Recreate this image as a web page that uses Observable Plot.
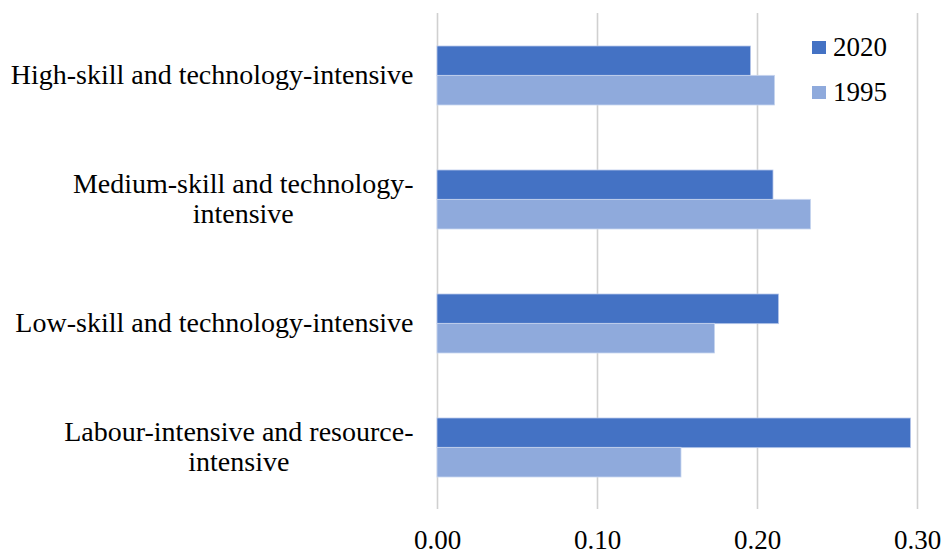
<!DOCTYPE html>
<html>
<head>
<meta charset="utf-8">
<script src="https://cdn.jsdelivr.net/npm/d3@7"></script>
<script src="https://cdn.jsdelivr.net/npm/@observablehq/plot@0.6"></script>
<style>
  html, body { margin: 0; padding: 0; background: #fff; }
  #wrap { position: relative; width: 943px; height: 553px; }
  #wrap svg text { font-family: "Liberation Serif", "Times New Roman", serif !important; }
  #legend { position: absolute; left: 812px; top: 25px; font-family: "Liberation Serif", serif; font-size: 27px; color: #000; }
  #legend .row { display: flex; align-items: center; height: 45px; }
  #legend .sw { width: 14px; height: 13px; margin-right: 7px; }
</style>
</head>
<body>
<div id="wrap"><div id="legend"></div></div>
<script>
const categories = [
  "High-skill and technology-intensive",
  "Medium-skill and technology-intensive",
  "Low-skill and technology-intensive",
  "Labour-intensive and resource-intensive"
];
const labelLines = [
  "High-skill and technology-intensive",
  "Medium-skill and technology-\nintensive",
  "Low-skill and technology-intensive",
  "Labour-intensive and resource-\nintensive"
];
const years = ["2020", "1995"];
const values2020 = [0.196, 0.210, 0.2135, 0.296];
const values1995 = [0.211, 0.2335, 0.1735, 0.1525];
const colors = ["#4472C4", "#8FAADC"];
const xTicks = [0, 0.1, 0.2, 0.3];

const FONT = "Liberation Serif";
const W = 943, H = 553;
const mTop = 13, mBottom = 44, mLeft = 437, mRight = 26;
const padInner = 0.527;
const band = (H - mTop - mBottom) / categories.length * (1 - padInner);
const half = band / 2;

const rows2020 = categories.map((c, i) => ({cat: c, value: values2020[i], year: years[0]}));
const rows1995 = categories.map((c, i) => ({cat: c, value: values1995[i], year: years[1]}));

const chart = Plot.plot({
  width: W,
  height: H,
  marginTop: mTop,
  marginBottom: mBottom,
  marginLeft: mLeft,
  marginRight: mRight,
  style: {fontFamily: FONT, fontSize: "27px", color: "#000", background: "#fff", overflow: "visible"},
  x: {domain: [0, 0.3], ticks: xTicks, tickFormat: d3.format(".2f"), label: null},
  y: {type: "band", domain: categories, paddingInner: padInner, paddingOuter: padInner / 2, axis: null, label: null},
  marks: [
    Plot.ruleX(xTicks, {stroke: "#d0d0d0", strokeWidth: 1.6}),
    Plot.barX(rows2020, {x: "value", y: "cat", fill: colors[0], insetBottom: half, stroke: "#b9c9ea", strokeWidth: 0.8}),
    Plot.barX(rows1995, {x: "value", y: "cat", fill: colors[1], insetTop: half, stroke: "#c9d6ef", strokeWidth: 0.8}),
    Plot.axisX({ticks: xTicks, tickFormat: d3.format(".2f"), tickSize: 0, tickPadding: 20, fontSize: 27, fontFamily: FONT, label: null}),
    Plot.text(categories, {x: 0, y: d => d, text: (d, i) => labelLines[i], textAnchor: "end", dx: -24, dy: -1.5, fontSize: 28, lineHeight: 1.07, fontFamily: FONT, fill: "#000"})
  ]
});

const wrap = document.getElementById("wrap");
wrap.insertBefore(chart, wrap.firstChild);

// center lines of multi-line labels within their right-aligned block
chart.querySelectorAll('g[aria-label="text"] text').forEach(t => {
  const spans = t.querySelectorAll("tspan");
  if (spans.length > 1) {
    let maxW = 0;
    spans.forEach(s => { maxW = Math.max(maxW, s.getComputedTextLength()); });
    t.setAttribute("text-anchor", "middle");
    spans.forEach(s => s.setAttribute("x", -maxW / 2));
  }
});

const legend = document.getElementById("legend");
years.forEach((y, i) => {
  const row = document.createElement("div");
  row.className = "row";
  const sw = document.createElement("div");
  sw.className = "sw";
  sw.style.background = colors[i];
  const lab = document.createElement("span");
  lab.textContent = y;
  row.appendChild(sw);
  row.appendChild(lab);
  legend.appendChild(row);
});
</script>
</body>
</html>
